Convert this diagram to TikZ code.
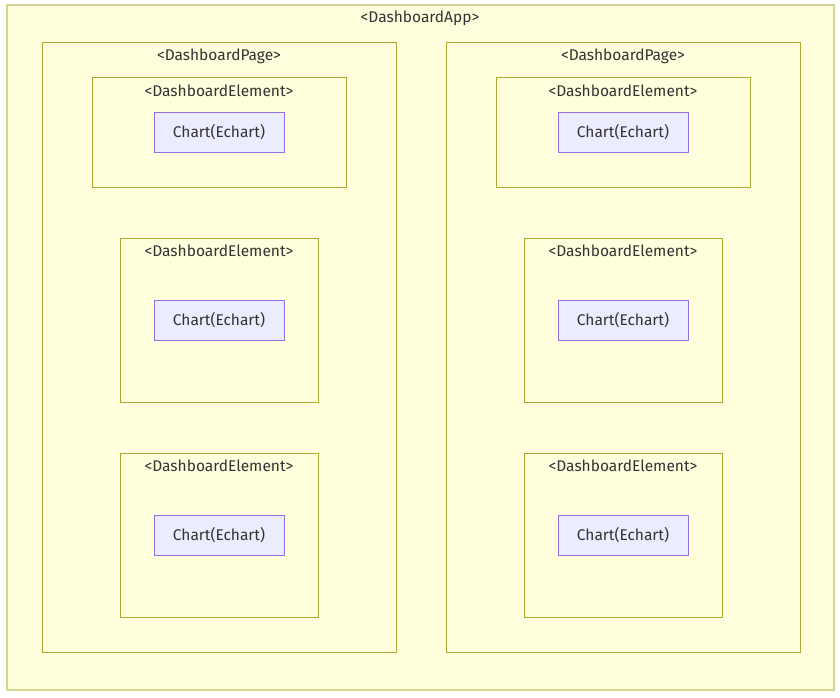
\documentclass[tikz,border=0pt]{standalone}
\usepackage{fontspec}
\setmainfont{Fira Sans}
\definecolor{clfill}{HTML}{FFFFDE}
\definecolor{clstroke}{HTML}{AAAA33}
\definecolor{outstroke}{HTML}{D4D494}
\definecolor{chfill}{HTML}{ECECFF}
\definecolor{chstroke}{HTML}{9370DB}
\definecolor{txt}{HTML}{333333}
\tikzset{
  cluster/.style={draw=clstroke, fill=clfill, line width=1pt},
  outer/.style={draw=outstroke, fill=clfill, line width=2pt},
  chartbox/.style={draw=chstroke, fill=chfill, line width=1pt, minimum width=130pt, minimum height=40pt, inner sep=0pt, font=\fontsize{15.5}{17}\selectfont, text=txt},
  lbl/.style={font=\fontsize{15.5}{17}\selectfont, text=txt, inner sep=0pt}
}
\begin{document}
\begin{tikzpicture}[x=1pt,y=-1pt]
\useasboundingbox (0,0) rectangle (840,698);
\draw[outer] (7,5) rectangle (834,690);
\node[lbl] (applbl) at (420,18) {<DashboardApp>};
\foreach \dx/\p in {0/L,404/R}{
  \begin{scope}[xshift=\dx]
  \draw[cluster] (42,43) rectangle (396,652);
  \node[lbl] (page\p) at (219,56) {<DashboardPage>};
  \draw[cluster] (92,78) rectangle (346,187);
  \node[lbl] (el1\p) at (219,91) {<DashboardElement>};
  \node[chartbox] (ch1\p) at (219,132.5) {Chart(Echart)};
  \draw[cluster] (120,238) rectangle (318,402);
  \node[lbl] (el2\p) at (219,251) {<DashboardElement>};
  \node[chartbox] (ch2\p) at (219,320) {Chart(Echart)};
  \draw[cluster] (120,453) rectangle (318,617);
  \node[lbl] (el3\p) at (219,466) {<DashboardElement>};
  \node[chartbox] (ch3\p) at (219,535) {Chart(Echart)};
  \end{scope}
}
\end{tikzpicture}
\end{document}
